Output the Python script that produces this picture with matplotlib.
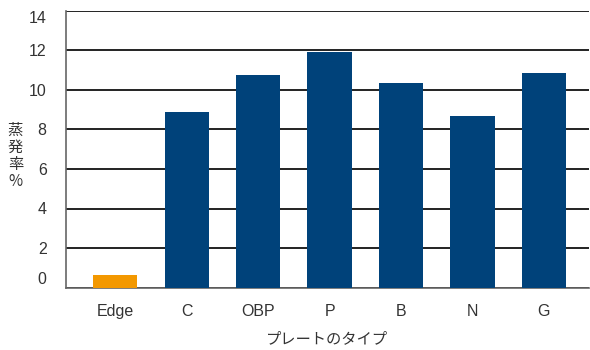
import matplotlib.pyplot as plt
import matplotlib.transforms as mtransforms

plt.rcParams['font.family'] = ['Liberation Sans', 'Noto Sans CJK JP', 'DejaVu Sans']

# data
plate_types = ['Edge', 'C', 'OBP', 'P', 'B', 'N', 'G']
evap_rate = [0.63, 8.88, 10.75, 11.92, 10.34, 8.68, 10.85]
bar_colors = ['#F39800'] + ['#00427A'] * 6
y_ticks = [0, 2, 4, 6, 8, 10, 12, 14]

fig = plt.figure(figsize=(5.9, 3.5), dpi=100)
ax = fig.add_axes([0.112, 0.178, 0.886, 0.792])

x = list(range(len(plate_types)))
ax.bar(x, evap_rate, width=0.62, color=bar_colors, zorder=3)

ax.set_xlim(-0.69, 6.63)
ax.set_ylim(0, 14)
ax.set_yticks(y_ticks)
ax.set_yticklabels([str(t) for t in y_ticks])
ax.yaxis.grid(True, color='#222222', linewidth=1.4, zorder=1)
ax.tick_params(axis='y', length=0, pad=14, labelsize=11.5, labelcolor='#333333')
ax.tick_params(axis='x', length=0, pad=12, labelsize=11.5, labelcolor='#333333')
ax.set_xticks(x)
ax.set_xticklabels(plate_types)

# the end labels sit a little inside the axis range in the original
labels = ax.get_yticklabels()
labels[0].set_transform(labels[0].get_transform() +
                        mtransforms.ScaledTranslation(0, 7 / 72, fig.dpi_scale_trans))
labels[-1].set_transform(labels[-1].get_transform() +
                         mtransforms.ScaledTranslation(0, -5 / 72, fig.dpi_scale_trans))

for side in ['top', 'right']:
    ax.spines[side].set_visible(False)
for side in ['left', 'bottom']:
    ax.spines[side].set_color('#666666')
    ax.spines[side].set_linewidth(1.2)

ax.set_xlabel('プレートのタイプ', fontsize=11, color='#333333', labelpad=8,
              family=['Noto Sans CJK JP', 'DejaVu Sans'])
fig.text(0.026, 0.555, '蒸\n発\n率\n%', fontsize=11, color='#333333', ha='center', va='center',
         linespacing=1.0, family=['Noto Sans CJK JP', 'DejaVu Sans'])

fig.savefig('out.png', dpi=100)
